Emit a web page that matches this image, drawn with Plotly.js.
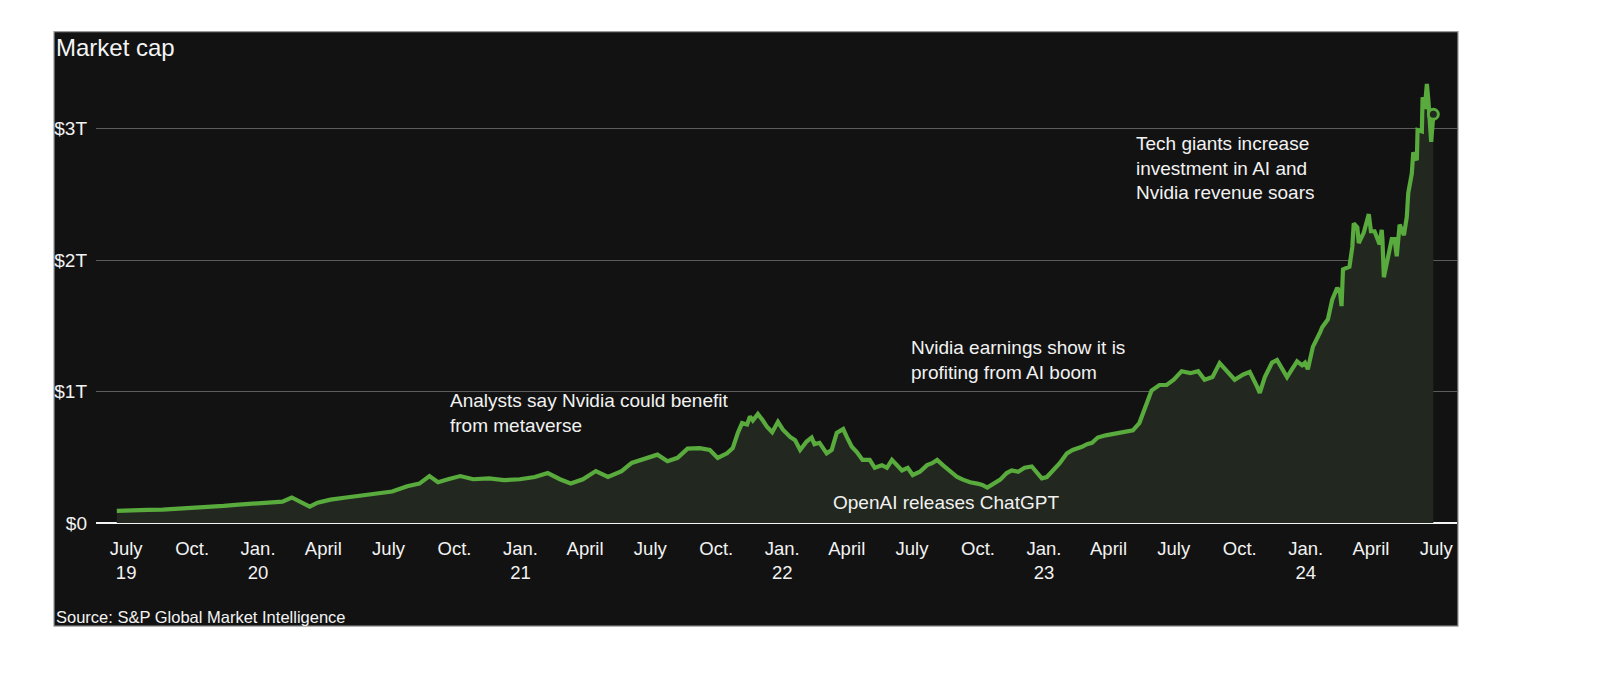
<!DOCTYPE html>
<html>
<head>
<meta charset="utf-8">
<script src="https://cdn.plot.ly/plotly-3.0.1.min.js"></script>
<style>
html,body{margin:0;padding:0;background:#fff;}
#chart{width:1600px;height:693px;}
</style>
</head>
<body>
<div id="chart"></div>
<script>
// ---- data (market cap, trillions of dollars) ----
const dates = [
"2019-06-18","2019-07-09","2019-07-31","2019-08-21","2019-09-11","2019-10-03","2019-10-24","2019-11-14","2019-12-05","2019-12-27",
"2020-01-17","2020-02-04","2020-02-17","2020-02-28","2020-03-13","2020-03-24","2020-04-11","2020-05-03","2020-05-24","2020-06-14",
"2020-07-06","2020-07-27","2020-08-13","2020-08-27","2020-09-08","2020-09-22","2020-10-09","2020-10-27","2020-11-18","2020-12-09",
"2020-12-31","2021-01-21","2021-02-08","2021-02-25","2021-03-12","2021-03-29","2021-04-16","2021-05-03","2021-05-22","2021-06-05",
"2021-06-22","2021-07-11","2021-07-25","2021-08-08","2021-08-22","2021-09-08","2021-09-22","2021-10-03","2021-10-16","2021-10-24",
"2021-10-31","2021-11-06","2021-11-13","2021-11-17","2021-11-21","2021-11-28","2021-12-05","2021-12-11","2021-12-18","2021-12-26",
"2022-01-02","2022-01-12","2022-01-19","2022-01-26","2022-02-04","2022-02-11","2022-02-15","2022-02-22","2022-03-04","2022-03-11",
"2022-03-18","2022-03-27","2022-04-01","2022-04-08","2022-04-15","2022-04-23","2022-05-03","2022-05-10","2022-05-20","2022-05-27",
"2022-06-03","2022-06-10","2022-06-17","2022-06-25","2022-07-02","2022-07-12","2022-07-22","2022-07-29","2022-08-05","2022-08-13",
"2022-08-23","2022-09-02","2022-09-10","2022-09-20","2022-09-30","2022-10-07","2022-10-14","2022-10-22","2022-11-01","2022-11-10",
"2022-11-17","2022-11-26","2022-12-05","2022-12-15","2022-12-22","2022-12-29","2023-01-05","2023-01-13","2023-01-23","2023-02-02",
"2023-02-10","2023-02-23","2023-03-02","2023-03-09","2023-03-17","2023-03-28","2023-04-11","2023-04-25","2023-05-05","2023-05-14",
"2023-05-24","2023-05-31","2023-06-11","2023-06-21","2023-07-01","2023-07-12","2023-07-24","2023-08-04","2023-08-13","2023-08-24",
"2023-09-03","2023-09-14","2023-09-24","2023-10-06","2023-10-15","2023-10-25","2023-10-29","2023-11-05","2023-11-15","2023-11-22",
"2023-11-29","2023-12-06","2023-12-13","2023-12-20","2023-12-27","2023-12-31","2024-01-04","2024-01-11","2024-01-21","2024-01-24",
"2024-02-01","2024-02-07","2024-02-14","2024-02-18","2024-02-20","2024-02-22","2024-03-02","2024-03-06","2024-03-08","2024-03-13",
"2024-03-15","2024-03-22","2024-03-29","2024-04-01","2024-04-06","2024-04-13","2024-04-16","2024-04-17","2024-04-19","2024-04-23",
"2024-04-30","2024-05-04","2024-05-07","2024-05-11","2024-05-17","2024-05-21","2024-05-23","2024-05-28","2024-05-30","2024-06-04",
"2024-06-05","2024-06-11","2024-06-12","2024-06-15","2024-06-18","2024-06-20","2024-06-24","2024-06-27"
];
const marketCap = [
0.093,0.100,0.100,0.102,0.108,0.116,0.124,0.130,0.140,0.147,
0.155,0.163,0.194,0.163,0.124,0.155,0.178,0.194,0.210,0.225,
0.240,0.280,0.300,0.357,0.310,0.333,0.357,0.333,0.340,0.326,
0.333,0.350,0.380,0.333,0.300,0.333,0.395,0.350,0.395,0.457,
0.488,0.520,0.470,0.496,0.566,0.570,0.556,0.495,0.530,0.570,
0.685,0.760,0.750,0.810,0.780,0.830,0.780,0.730,0.690,0.770,
0.710,0.655,0.630,0.556,0.620,0.650,0.600,0.610,0.530,0.556,
0.685,0.715,0.655,0.580,0.540,0.480,0.480,0.420,0.440,0.420,
0.480,0.440,0.400,0.420,0.365,0.390,0.440,0.455,0.480,0.440,
0.390,0.350,0.330,0.310,0.300,0.290,0.270,0.300,0.330,0.380,
0.400,0.390,0.420,0.430,0.390,0.340,0.350,0.400,0.455,0.530,
0.556,0.580,0.600,0.610,0.650,0.667,0.682,0.690,0.705,0.760,
0.915,1.008,1.050,1.050,1.090,1.155,1.140,1.155,1.090,1.110,
1.217,1.155,1.090,1.130,1.150,1.040,0.990,1.110,1.220,1.240,
1.180,1.110,1.170,1.230,1.200,1.220,1.170,1.340,1.450,1.490,
1.550,1.700,1.790,1.750,1.650,1.930,1.950,2.100,2.280,2.250,
2.130,2.210,2.350,2.220,2.220,2.120,2.230,2.160,1.870,1.980,
2.160,2.160,2.030,2.270,2.190,2.330,2.510,2.660,2.820,2.760,
2.990,2.980,3.240,3.150,3.340,3.220,2.900,3.110
];
const xTickVals = ["2019-07-01","2019-10-01","2020-01-01","2020-04-01","2020-07-01","2020-10-01","2021-01-01","2021-04-01","2021-07-01","2021-10-01","2022-01-01","2022-04-01","2022-07-01","2022-10-01","2023-01-01","2023-04-01","2023-07-01","2023-10-01","2024-01-01","2024-04-01","2024-07-01"];
const xTickText = ["July<br>19","Oct.","Jan.<br>20","April","July","Oct.","Jan.<br>21","April","July","Oct.","Jan.<br>22","April","July","Oct.","Jan.<br>23","April","July","Oct.","Jan.<br>24","April","July"];
const yTickVals = [0,1,2,3];
const yTickText = ["$0","$1T","$2T","$3T"];
const notes = [
  {text:"Tech giants increase<br>investment in AI and<br>Nvidia revenue soars", px:1134, py:168},
  {text:"Nvidia earnings show it is<br>profiting from AI boom", px:909, py:360},
  {text:"Analysts say Nvidia could benefit<br>from metaverse", px:448, py:413},
  {text:"OpenAI releases ChatGPT", px:831, py:503}
];

// ---- layout geometry (pixels) ----
const W=1600, H=693;
const L=96, R=143, T=63.4, B=170;
const PW=W-L-R, PH=H-T-B;
const fx = p => (p-L)/PW;
const fy = p => 1-(p-T)/PH;
const FONT = "Liberation Sans, Arial, sans-serif";
const GREEN = "#58ab3c";

const last = dates.length-1;
const traces = [
  {
    x: dates, y: marketCap, type:"scatter", mode:"lines",
    line:{color:GREEN, width:4.2, shape:"linear"},
    fill:"tozeroy", fillcolor:"#22281f",
    hoverinfo:"skip"
  },
  {
    x:[dates[last]], y:[marketCap[last]], type:"scatter", mode:"markers",
    marker:{size:10, color:"#22281f", line:{color:GREEN, width:3}},
    hoverinfo:"skip"
  }
];

const annotations = notes.map(n => ({
  text:n.text, xref:"paper", yref:"paper", x:fx(n.px), y:fy(n.py),
  xanchor:"left", yanchor:"middle", align:"left", showarrow:false,
  font:{family:FONT, size:19, color:"#f2f2f2"}
}));
annotations.push({
  text:"Source: S&P Global Market Intelligence", xref:"paper", yref:"paper",
  x:fx(54), y:fy(617), xanchor:"left", yanchor:"middle", showarrow:false,
  font:{family:FONT, size:16.5, color:"#f2f2f2"}
});

const layout = {
  width:W, height:H,
  margin:{l:L, r:R, t:T, b:B, pad:0},
  paper_bgcolor:"#ffffff",
  plot_bgcolor:"rgba(0,0,0,0)",
  showlegend:false,
  title:{text:"Market cap", xref:"container", yref:"container", x:56/W, y:1-48/H,
         xanchor:"left", yanchor:"middle", font:{family:FONT, size:24, color:"#f4f4f4"}},
  xaxis:{
    type:"date", range:["2019-05-20","2024-07-30"],
    tickvals:xTickVals, ticktext:xTickText, tickmode:"array",
    showgrid:false, zeroline:false, showline:false, ticks:"",
    ticklabelstandoff:12,
    tickfont:{family:FONT, size:18.5, color:"#f2f2f2"}, fixedrange:true
  },
  yaxis:{
    range:[0,3.5], tickvals:yTickVals, ticktext:yTickText, tickmode:"array",
    showgrid:true, gridcolor:"#5c5c5c", gridwidth:1.2,
    zeroline:true, zerolinecolor:"#f4f4f4", zerolinewidth:2.2,
    showline:false, ticks:"", ticklabelstandoff:8,
    tickfont:{family:FONT, size:19, color:"#f2f2f2"}, fixedrange:true
  },
  shapes:[
    {type:"rect", xref:"paper", yref:"paper", layer:"below",
     x0:fx(54), x1:fx(1458), y0:fy(626), y1:fy(32),
     fillcolor:"#121212", line:{color:"#9a9a9a", width:1.2}}
  ],
  annotations:annotations
};

Plotly.newPlot("chart", traces, layout, {displayModeBar:false, staticPlot:true});
</script>
</body>
</html>
